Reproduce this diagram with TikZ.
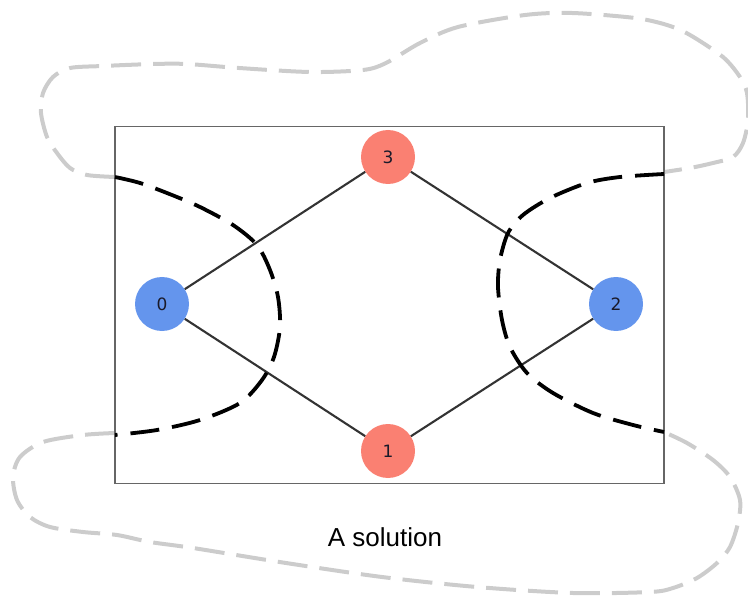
\documentclass[tikz,border=0pt]{standalone}
\usepackage{fontspec}
\setmainfont{Liberation Sans}
\newfontfamily\nodefont{DejaVu Sans}
\begin{document}
\begin{tikzpicture}[x=1pt,y=-1pt,
  vertex/.style={circle,minimum size=54pt,inner sep=0pt,text=labelink,font=\nodefont\fontsize{17}{17}\selectfont},
  bluev/.style={vertex,fill=cornblue},
  redv/.style={vertex,fill=salmonv},
  edge/.style={draw=edgegray,line width=2.1pt},
  cutline/.style={draw=black,line width=3.8pt,dash pattern=on 29pt off 13pt},
  hullline/.style={draw=hullgray,line width=4pt,dash pattern=on 30pt off 12pt}]
\definecolor{cornblue}{HTML}{6495ED}
\definecolor{salmonv}{HTML}{FA8072}
\definecolor{edgegray}{HTML}{333333}
\definecolor{hullgray}{HTML}{CCCCCC}
\definecolor{framegray}{HTML}{666666}
\definecolor{labelink}{HTML}{1A1A2A}
\useasboundingbox (0,0) rectangle (748,599);

% outer grey regions
\draw[hullline] plot[smooth] coordinates {(115,177) (87,175) (70,168) (57,153) (47,137) (41,113) (43,93) (53,77) (70,68) (103,66) (153,64) (187,64) (239,68) (310,72) (363,70) (386,63) (420,43) (458,27) (525,15) (572,13) (635,18) (667,25) (690,35) (723,57) (740,77) (747,93) (748,120) (743,143) (733,157) (713,163) (690,168) (664,172)};
\draw[hullline] plot[smooth] coordinates {(115,433) (83,435) (43,442) (20,457) (13,477) (17,500) (30,517) (50,527) (83,532) (117,535) (150,542) (193,548) (286,563) (382,577) (477,587) (573,593) (650,592) (673,588) (697,578) (717,563) (730,547) (738,523) (740,500) (730,477) (713,460) (687,443) (664,432)};

% frame
\node[draw=framegray,line width=1.5pt,inner sep=0pt,minimum width=549pt,minimum height=357pt] (frame) at (389.5,305) {};

% graph
\node[bluev] (n0) at (162,304) {0};
\node[redv] (n3) at (388,157) {3};
\node[bluev] (n2) at (616,304) {2};
\node[redv] (n1) at (388,451) {1};
\draw[edge] (n0) -- (n3);
\draw[edge] (n0) -- (n1);
\draw[edge] (n3) -- (n2);
\draw[edge] (n1) -- (n2);

% cut curves
\draw[cutline] plot[smooth] coordinates {(115,177) (140,183) (172,195) (200,207) (233,225) (257,245) (270,270) (278,297) (280,327) (274,357) (262,380) (240,403) (200,420) (157,430) (115,435)};
\draw[cutline] plot[smooth] coordinates {(664,174) (620,177) (587,183) (550,198) (523,215) (508,233) (500,260) (498,287) (502,320) (510,347) (527,373) (553,393) (593,413) (633,425) (664,432)};

\node[anchor=base,font=\fontsize{26}{26}\selectfont,inner sep=0pt] (caption) at (385,546) {A solution};
\end{tikzpicture}
\end{document}
